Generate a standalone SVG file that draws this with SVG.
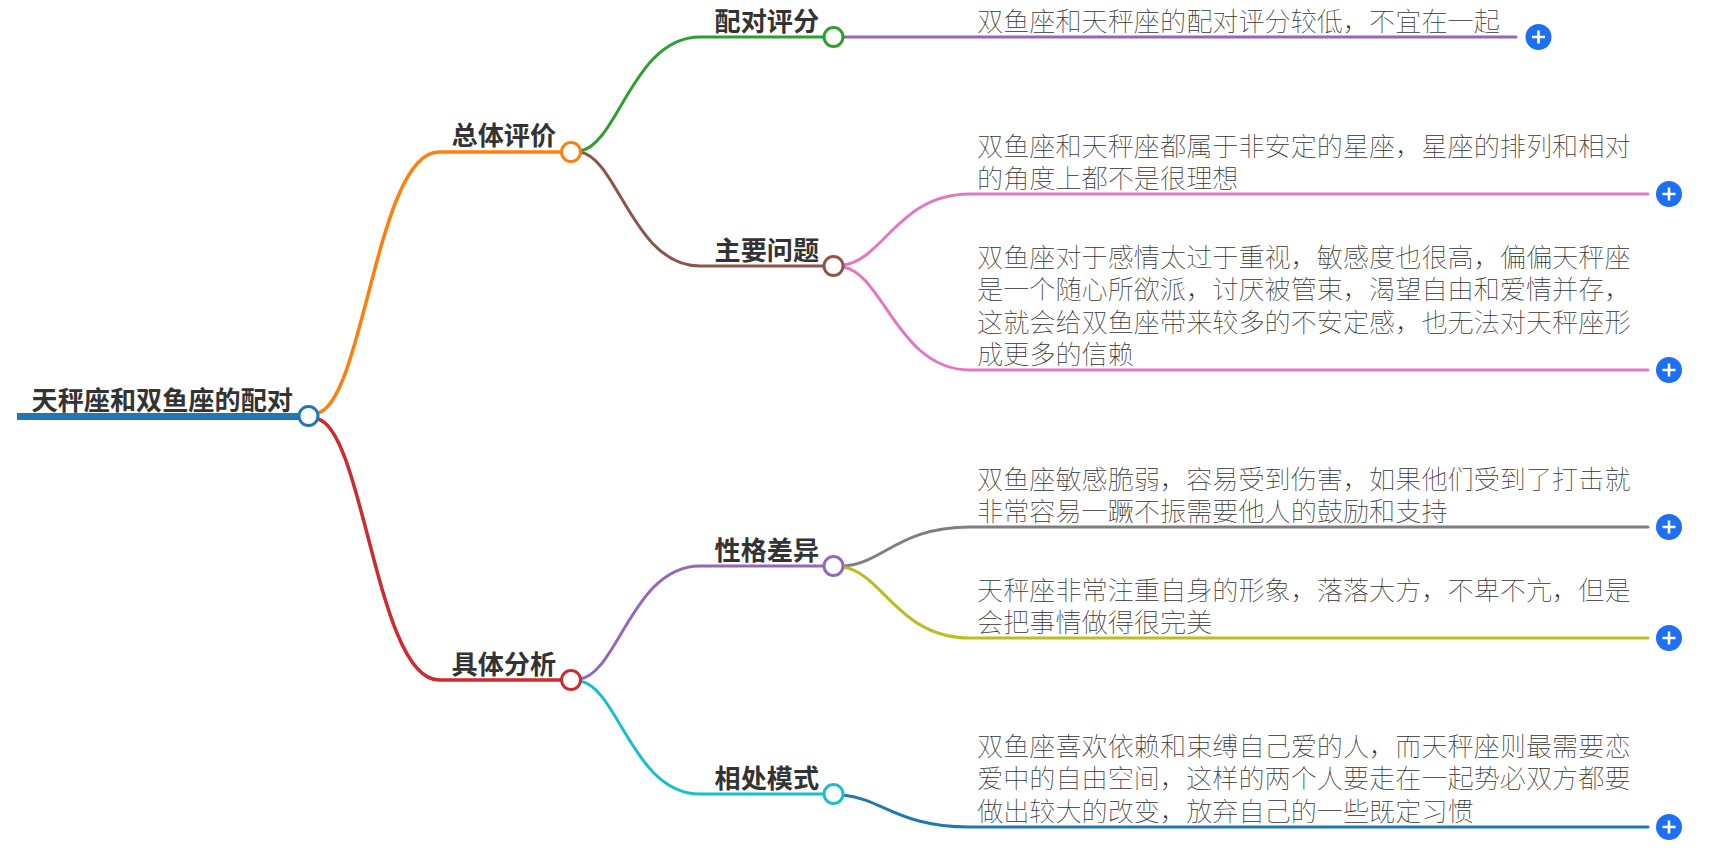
<svg xmlns="http://www.w3.org/2000/svg" width="1717" height="851" viewBox="0 0 1717 851">
<style>
text{font-family:"Noto Sans CJK SC","Noto Sans CJK JP",sans-serif;font-size:26.15px}
.b{font-weight:700;fill:#333}
.l{font-weight:100;fill:#333}
.c{fill:none;stroke-width:3;stroke-linecap:round}
.t{stroke-width:3.5}
.n{fill:#fff;stroke-width:3}
.p{fill:#1f6ff5}
.w{stroke:#fff;stroke-width:2.6;fill:none}
</style>
<rect width="1717" height="851" fill="#fff"/>
<g id="connectors">
<path d="M17 416.500H300" fill="none" stroke="#1f77b4" stroke-width="7"/>
<path class="c t" stroke="#ff7f0e" d="M318 413C364 400 377 152 439 152H560"/>
<path class="c t" stroke="#cf2a2e" d="M318 419C364 432 377 680 439 680H560"/>
<path class="c" stroke="#2ca02c" d="M580 151C618 145 633 37 700 37H823"/>
<path class="c" stroke="#8c564b" d="M580 152C618 158 633 266 700 266H823"/>
<path class="c" stroke="#9467bd" d="M580 679C618 673 633 566 700 566H823"/>
<path class="c" stroke="#17becf" d="M580 681C618 687 633 794 700 794H823"/>
<path class="c" stroke="#9467bd" d="M843 37H1516"/>
<path class="c" stroke="#e377c2" d="M843 265C883 261 898 194 970 194H1648"/>
<path class="c" stroke="#e377c2" d="M843 267C883 273 898 370 970 370H1648"/>
<path class="c" stroke="#7f7f7f" d="M843 566C883 564 898 527 970 527H1648"/>
<path class="c" stroke="#bcbd22" d="M843 567C883 573 898 638 970 638H1648"/>
<path class="c" stroke="#1f77b4" d="M843 795C883 799 898 827 970 827H1648"/>
</g>
<g id="root"><text class="b" x="31.500" y="409.500">天秤座和双鱼座的配对</text><circle class="n" stroke="#1f77b4" cx="308.500" cy="416" r="9.5"/></g>
<g id="n-zongti"><text class="b" x="451.500" y="145">总体评价</text><circle class="n" stroke="#ff7f0e" cx="571" cy="152" r="9.5"/></g>
<g id="n-juti"><text class="b" x="451.500" y="674">具体分析</text><circle class="n" stroke="#cf2a2e" cx="571" cy="680" r="9.5"/></g>
<g id="n-peidui"><text class="b" x="714.500" y="31">配对评分</text><circle class="n" stroke="#2ca02c" cx="833.500" cy="37" r="9.5"/></g>
<g id="n-wenti"><text class="b" x="714.500" y="260">主要问题</text><circle class="n" stroke="#8c564b" cx="833.500" cy="266" r="9.5"/></g>
<g id="n-xingge"><text class="b" x="714.500" y="560">性格差异</text><circle class="n" stroke="#9467bd" cx="833.500" cy="566" r="9.5"/></g>
<g id="n-xiangchu"><text class="b" x="714.500" y="788">相处模式</text><circle class="n" stroke="#17becf" cx="833.500" cy="794" r="9.5"/></g>
<g id="leaf1"><text class="l" x="977" y="31">双鱼座和天秤座的配对评分较低，不宜在一起</text><circle class="p" cx="1538.500" cy="37" r="13"/><path class="w" d="M1532 37H1545M1538.500 30.500V43.500"/></g>
<g id="leaf2"><text class="l" x="977" y="156">双鱼座和天秤座都属于非安定的星座，星座的排列和相对</text><text class="l" x="977" y="188">的角度上都不是很理想</text><circle class="p" cx="1669" cy="194" r="13"/><path class="w" d="M1662.500 194H1675.500M1669 187.500V200.500"/></g>
<g id="leaf3"><text class="l" x="977" y="266.500">双鱼座对于感情太过于重视，敏感度也很高，偏偏天秤座</text><text class="l" x="977" y="299">是一个随心所欲派，讨厌被管束，渴望自由和爱情并存，</text><text class="l" x="977" y="331.500">这就会给双鱼座带来较多的不安定感，也无法对天秤座形</text><text class="l" x="977" y="364">成更多的信赖</text><circle class="p" cx="1669" cy="370" r="13"/><path class="w" d="M1662.500 370H1675.500M1669 363.500V376.500"/></g>
<g id="leaf4"><text class="l" x="977" y="488.500">双鱼座敏感脆弱，容易受到伤害，如果他们受到了打击就</text><text class="l" x="977" y="521">非常容易一蹶不振需要他人的鼓励和支持</text><circle class="p" cx="1669" cy="527" r="13"/><path class="w" d="M1662.500 527H1675.500M1669 520.500V533.500"/></g>
<g id="leaf5"><text class="l" x="977" y="600">天秤座非常注重自身的形象，落落大方，不卑不亢，但是</text><text class="l" x="977" y="632">会把事情做得很完美</text><circle class="p" cx="1669" cy="638" r="13"/><path class="w" d="M1662.500 638H1675.500M1669 631.500V644.500"/></g>
<g id="leaf6"><text class="l" x="977" y="755.500">双鱼座喜欢依赖和束缚自己爱的人，而天秤座则最需要恋</text><text class="l" x="977" y="788">爱中的自由空间，这样的两个人要走在一起势必双方都要</text><text class="l" x="977" y="820.500">做出较大的改变，放弃自己的一些既定习惯</text><circle class="p" cx="1669" cy="827" r="13"/><path class="w" d="M1662.500 827H1675.500M1669 820.500V833.500"/></g>
</svg>
